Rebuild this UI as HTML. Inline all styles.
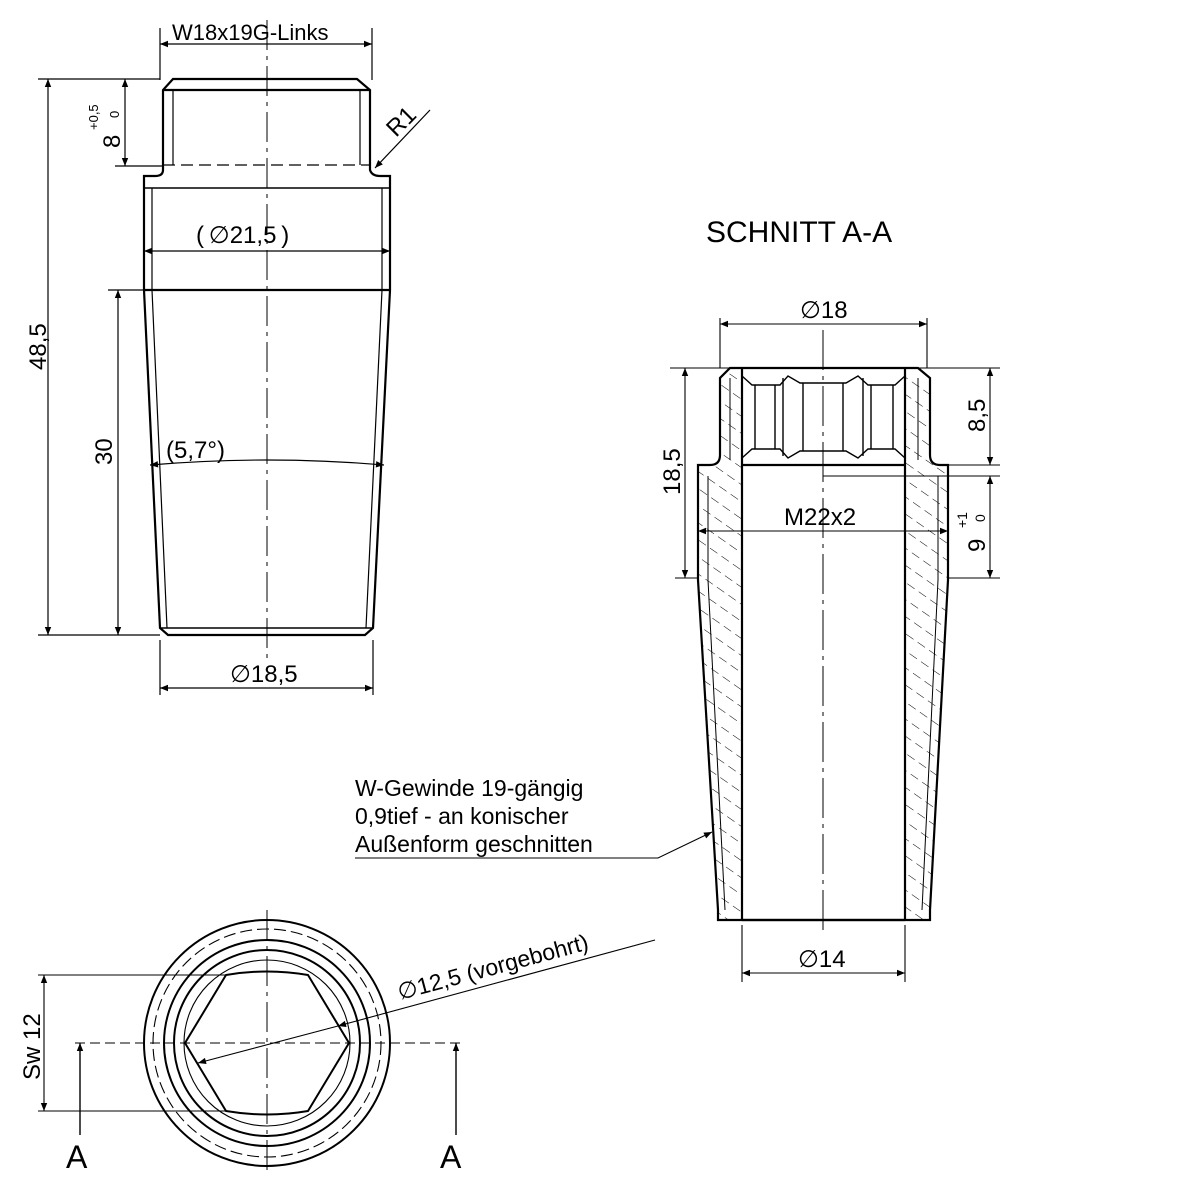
<!DOCTYPE html>
<html><head><meta charset="utf-8"><style>body{margin:0;background:#fff}svg{display:block}</style></head><body>
<svg width="1200" height="1200" viewBox="0 0 1200 1200" xmlns="http://www.w3.org/2000/svg" font-family="Liberation Sans, sans-serif">
<defs>
<marker id="a" viewBox="0 0 10 10" refX="10" refY="5" markerWidth="14" markerHeight="8" orient="auto-start-reverse" markerUnits="userSpaceOnUse"><path d="M0,1 L10,5 L0,9z" fill="#000"/></marker>
<pattern id="h" width="14" height="14" patternUnits="userSpaceOnUse" patternTransform="rotate(-55)"><line x1="0" y1="0" x2="0" y2="14" stroke="#000" stroke-width="1" stroke-dasharray="9 5"/></pattern>
</defs>
<g fill="none" stroke="#000">
<g stroke-width="2.2">
<path d="M173,79 L357,79 L370,90 L370,170 Q372,176 380,176 L390,176 L390,290 L373,628 L365,635 L168,635 L160,628 L144,290 L144,176 L155,176 Q163,176 163,170 L163,90 Z"/>
<line x1="163" y1="90" x2="370" y2="90"/>
<line x1="144" y1="188" x2="390" y2="188" stroke-width="1.5"/>
<line x1="144" y1="290" x2="390" y2="290"/>
<line x1="160" y1="628" x2="373" y2="628" stroke-width="1.5"/>
</g>
<g stroke-width="1.2">
<line x1="173" y1="90" x2="173" y2="165"/><line x1="360" y1="90" x2="360" y2="165"/>
<line x1="163" y1="165" x2="370" y2="165" stroke-dasharray="12 6"/>
<line x1="152" y1="188" x2="152" y2="290"/><line x1="382" y1="188" x2="382" y2="290"/>
<path d="M152,290 L167,628"/><path d="M382,290 L366,628"/>
<line x1="267" y1="20" x2="267" y2="660" stroke-dasharray="30 6 4 6" stroke-width="1"/>
<line x1="160" y1="28" x2="160" y2="80"/><line x1="372" y1="28" x2="372" y2="80"/>
<line x1="160" y1="44" x2="372" y2="44" marker-start="url(#a)" marker-end="url(#a)"/>
<line x1="38" y1="79" x2="160" y2="79"/><line x1="38" y1="635" x2="160" y2="635"/>
<line x1="48" y1="79" x2="48" y2="635" marker-start="url(#a)" marker-end="url(#a)"/>
<line x1="115" y1="166" x2="163" y2="166"/>
<line x1="125" y1="79" x2="125" y2="166" marker-start="url(#a)" marker-end="url(#a)"/>
<line x1="108" y1="290" x2="144" y2="290"/>
<line x1="118" y1="290" x2="118" y2="635" marker-start="url(#a)" marker-end="url(#a)"/>
<line x1="144" y1="251" x2="390" y2="251" marker-start="url(#a)" marker-end="url(#a)"/>
<path d="M150,465 Q267,455 384,465" marker-start="url(#a)" marker-end="url(#a)"/>
<line x1="160" y1="640" x2="160" y2="695"/><line x1="373" y1="640" x2="373" y2="695"/>
<line x1="160" y1="688" x2="373" y2="688" marker-start="url(#a)" marker-end="url(#a)"/>
<line x1="430" y1="110" x2="375" y2="168" marker-end="url(#a)"/>
</g>
<g stroke-width="1.2">
<line x1="823" y1="330" x2="823" y2="930" stroke-dasharray="40 6 4 6" stroke-width="1"/>
<path fill="url(#h)" stroke="none" d="M720,378 L730,368 L742,368 L742,465 L742,920 L718,920 L698,590 L698,470 L710,465 Q720,465 720,455 Z"/>
<path fill="url(#h)" stroke="none" d="M905,368 L918,368 L930,378 L930,455 Q930,465 940,465 L948,470 L948,590 L930,920 L905,920 Z"/>
</g>
<g stroke-width="2.2">
<path d="M730,368 L918,368 L930,378 L930,455 Q930,465 940,465 L948,465 L948,580 L930,910 L930,920 L718,920 L718,910 L698,580 L698,465 L710,465 Q720,465 720,455 L720,378 Z"/>
<line x1="742" y1="368" x2="742" y2="920"/><line x1="905" y1="368" x2="905" y2="920"/>
<line x1="742" y1="465" x2="905" y2="465"/>
<line x1="742" y1="920" x2="905" y2="920"/>
</g>
<g stroke-width="1.4">
<path d="M742,376 L752,385 L780,385 L788,376 L800,383 L846,383 L858,376 L868,385 L895,385 L905,376"/>
<path d="M742,458 L752,449 L780,449 L788,458 L800,451 L846,451 L858,458 L868,449 L895,449 L905,458"/>
<line x1="755" y1="385" x2="755" y2="449"/><line x1="775" y1="385" x2="775" y2="449"/>
<line x1="783" y1="378" x2="783" y2="456"/><line x1="803" y1="383" x2="803" y2="451"/>
<line x1="843" y1="383" x2="843" y2="451"/><line x1="863" y1="378" x2="863" y2="456"/>
<line x1="871" y1="385" x2="871" y2="449"/><line x1="893" y1="385" x2="893" y2="449"/>
<line x1="730" y1="378" x2="730" y2="460" stroke-width="1"/><line x1="918" y1="378" x2="918" y2="460" stroke-width="1"/>
<line x1="708" y1="476" x2="708" y2="580" stroke-width="1"/><line x1="938" y1="476" x2="938" y2="580" stroke-width="1"/>
<line x1="708" y1="580" x2="725" y2="910" stroke-width="1"/><line x1="938" y1="580" x2="922" y2="910" stroke-width="1"/>
</g>
<g stroke-width="1.1">
<line x1="720" y1="318" x2="720" y2="368"/><line x1="927" y1="318" x2="927" y2="368"/>
<line x1="720" y1="324" x2="927" y2="324" marker-start="url(#a)" marker-end="url(#a)"/>
<line x1="670" y1="368" x2="1000" y2="368"/>
<line x1="685" y1="368" x2="685" y2="578" marker-start="url(#a)" marker-end="url(#a)"/>
<line x1="675" y1="578" x2="698" y2="578"/>
<line x1="940" y1="465" x2="1000" y2="465"/>
<line x1="990" y1="368" x2="990" y2="465" marker-start="url(#a)" marker-end="url(#a)"/>
<line x1="823" y1="476" x2="1000" y2="476"/>
<line x1="948" y1="578" x2="1000" y2="578"/>
<line x1="990" y1="476" x2="990" y2="578" marker-start="url(#a)" marker-end="url(#a)"/>
<line x1="698" y1="531" x2="948" y2="531" marker-start="url(#a)" marker-end="url(#a)"/>
<line x1="742" y1="925" x2="742" y2="982"/><line x1="905" y1="925" x2="905" y2="982"/>
<line x1="742" y1="973" x2="905" y2="973" marker-start="url(#a)" marker-end="url(#a)"/>
<polyline points="355,858 658,858 712,832" marker-end="url(#a)"/>
</g>
<g stroke-width="2">
<circle cx="267" cy="1043" r="123"/>
<circle cx="267" cy="1043" r="103"/>
<circle cx="267" cy="1043" r="93"/>
<path d="M185,1043 L226,975 Q267,968 308,975 L349,1043 L308,1111 Q267,1118 226,1111 Z"/>
</g>
<g stroke-width="1.1">
<circle cx="267" cy="1043" r="114" stroke-dasharray="12 5"/>
<circle cx="267" cy="1043" r="83"/>
<line x1="267" y1="910" x2="267" y2="1175" stroke-dasharray="30 6 4 6" stroke-width="1"/>
<line x1="75" y1="1043" x2="465" y2="1043" stroke-dasharray="10 5"/>
<line x1="38" y1="975" x2="226" y2="975"/><line x1="38" y1="1111" x2="226" y2="1111"/>
<line x1="44" y1="975" x2="44" y2="1111" marker-start="url(#a)" marker-end="url(#a)"/>
<line x1="80" y1="1135" x2="80" y2="1043" marker-end="url(#a)" stroke-width="1.4"/>
<line x1="456" y1="1135" x2="456" y2="1043" marker-end="url(#a)" stroke-width="1.4"/>
<line x1="655" y1="940" x2="338" y2="1026" marker-end="url(#a)"/>
<line x1="338" y1="1026" x2="198" y2="1063" marker-end="url(#a)"/>
</g>
</g>
<g fill="#000" font-size="22">
<text x="172" y="40">W18x19G-Links</text>
<text x="196" y="243" font-size="24">(&#8201;∅21,5&#8201;)</text>
<text x="166" y="458" font-size="24">(5,7°)</text>
<text x="230" y="682" font-size="24">∅18,5</text>
<text transform="translate(46,370) rotate(-90)" font-size="24">48,5</text>
<text transform="translate(112,465) rotate(-90)" font-size="24">30</text>
<text transform="translate(120,148) rotate(-90)" font-size="24">8</text>
<text transform="translate(98,130) rotate(-90)" font-size="13">+0,5</text>
<text transform="translate(119,118) rotate(-90)" font-size="13">0</text>
<text transform="translate(396,138) rotate(-45)" font-size="24">R1</text>
<text x="706" y="242" font-size="30">SCHNITT A-A</text>
<text x="800" y="318" font-size="24">∅18</text>
<text transform="translate(680,495) rotate(-90)" font-size="24">18,5</text>
<text transform="translate(985,432) rotate(-90)" font-size="24">8,5</text>
<text x="784" y="525" font-size="24">M22x2</text>
<text transform="translate(985,552) rotate(-90)" font-size="24">9</text>
<text transform="translate(967,528) rotate(-90)" font-size="14">+1</text>
<text transform="translate(985,522) rotate(-90)" font-size="14">0</text>
<text x="355" y="796" font-size="23">W-Gewinde 19-gängig</text>
<text x="355" y="824" font-size="23">0,9tief - an konischer</text>
<text x="355" y="852" font-size="23">Außenform geschnitten</text>
<text x="798" y="967" font-size="24">∅14</text>
<text transform="translate(400,1000) rotate(-15)" font-size="23">∅12,5 (vorgebohrt)</text>
<text transform="translate(40,1080) rotate(-90)" font-size="24">Sw 12</text>
<text x="66" y="1168" font-size="32">A</text>
<text x="440" y="1168" font-size="32">A</text>
</g>
</svg>
</body></html>
